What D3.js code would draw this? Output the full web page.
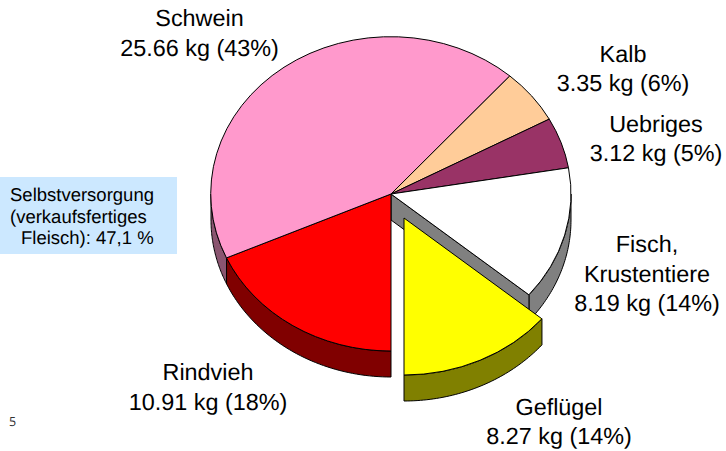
<!DOCTYPE html>
<html><head><meta charset="utf-8">
<script src="https://cdn.jsdelivr.net/npm/d3@7/dist/d3.min.js"></script>
<style>html,body{margin:0;padding:0;background:#fff}svg{display:block}text{font-family:"Liberation Sans",Arial,sans-serif;fill:#000;text-rendering:geometricPrecision}</style>
</head><body><svg id="c" width="726" height="451"></svg>
<script>
const categories=["Rindvieh","Schwein","Kalb","Uebriges","Fisch, Krustentiere","Geflügel"];
const values=[10.91,25.66,3.35,3.12,8.19,8.27];
const percents=[18,43,6,5,14,14];
const topColors=["#FF0000","#FF99CC","#FFCC99","#993366","#FFFFFF","#FFFF00"];
const sideColors=["#800000","#8A5570","#806650","#4D1A33","#808080","#808000"];
const noteLines=["Selbstversorgung","(verkaufsfertiges","Fleisch): 47,1 %"];

const svg=d3.select("#c");
const cx=391,cy=194,rx=180,ry=157,depth=26,explode=[13,24];
const slices=d3.pie().sort(null).startAngle(Math.PI).endAngle(3*Math.PI)(values)
  .map((s,i)=>({...s,i,dx:i===5?explode[0]:0,dy:i===5?explode[1]:0}));
const px=d3.scaleLinear().domain([-1,1]).range([cx-rx,cx+rx]);
const py=d3.scaleLinear().domain([-1,1]).range([cy-ry,cy+ry]);
const pt=(a,dx=0,dy=0)=>[px(Math.sin(a))+dx,py(-Math.cos(a))+dy];
const line=d3.line();
const stroke=g=>g.attr("stroke","#000").attr("stroke-width",1).attr("stroke-linejoin","round");

function wall(a0,a1,dx,dy){
  const n=48,up=d3.range(n+1).map(k=>pt(a0+(a1-a0)*k/n,dx,dy));
  const down=up.slice().reverse().map(p=>[p[0],p[1]+depth]);
  return line(up.concat(down))+"Z";
}
const T=2*Math.PI;
const s=slices;
const side=(d,col)=>svg.append("path").attr("d",d).attr("fill",col).call(stroke);
// pink rim on the left
side(wall(s[1].startAngle,1.5*Math.PI,0,0),sideColors[1]);
// grey rim and cut face of the fish slice
side(wall(0.5*Math.PI+T,s[4].endAngle,0,0),sideColors[4]);
const f=pt(s[4].endAngle);
side(line([[cx,cy],f,[f[0],f[1]+depth],[cx,cy+depth]])+"Z",sideColors[4]);
// red rim
side(wall(s[0].startAngle,s[0].endAngle,0,0),sideColors[0]);

const arc=d3.arc().innerRadius(0).outerRadius(1);
const drawTop=d=>svg.append("path").attr("d",arc(d))
  .attr("transform",`translate(${cx+d.dx},${cy+d.dy}) scale(${rx},${ry})`)
  .attr("vector-effect","non-scaling-stroke").attr("fill",topColors[d.i]).call(stroke);
s.slice(0,5).forEach(drawTop);
// exploded slice
side(wall(s[5].startAngle,s[5].endAngle,explode[0],explode[1]),sideColors[5]);
drawTop(s[5]);

// labels
const fmt=d3.format(".2f");
const labelLines=[
 ["Rindvieh"],["Schwein"],["Kalb"],["Uebriges"],["Fisch,","Krustentiere"],["Geflügel"]
].map((l,i)=>l.concat(`${fmt(values[i])} kg (${percents[i]}%)`));
const labelPos=[[208,380,30],[199.5,26,30],[623,62,29],[656,132,29],[647,252,29.5],[559,415,29]];
labelLines.forEach((ls,i)=>{
  const t=svg.append("text").attr("text-anchor","middle").attr("font-size",23.4);
  ls.forEach((l,k)=>t.append("tspan").attr("x",labelPos[i][0]).attr("y",labelPos[i][1]+k*labelPos[i][2]).text(l));
});
// note box
svg.append("rect").attr("x",0).attr("y",177).attr("width",177).attr("height",77).attr("fill","#CCE8FF");
const noteX=[10,10,21];
noteLines.forEach((l,k)=>svg.append("text").attr("x",noteX[k]).attr("y",201+k*21.7).attr("font-size",18.5).text(l));
svg.append("text").attr("x",9).attr("y",426).attr("font-size",12.5).style("font-family","'Open Sans'").style("fill","#333").text("5");
</script></body></html>
